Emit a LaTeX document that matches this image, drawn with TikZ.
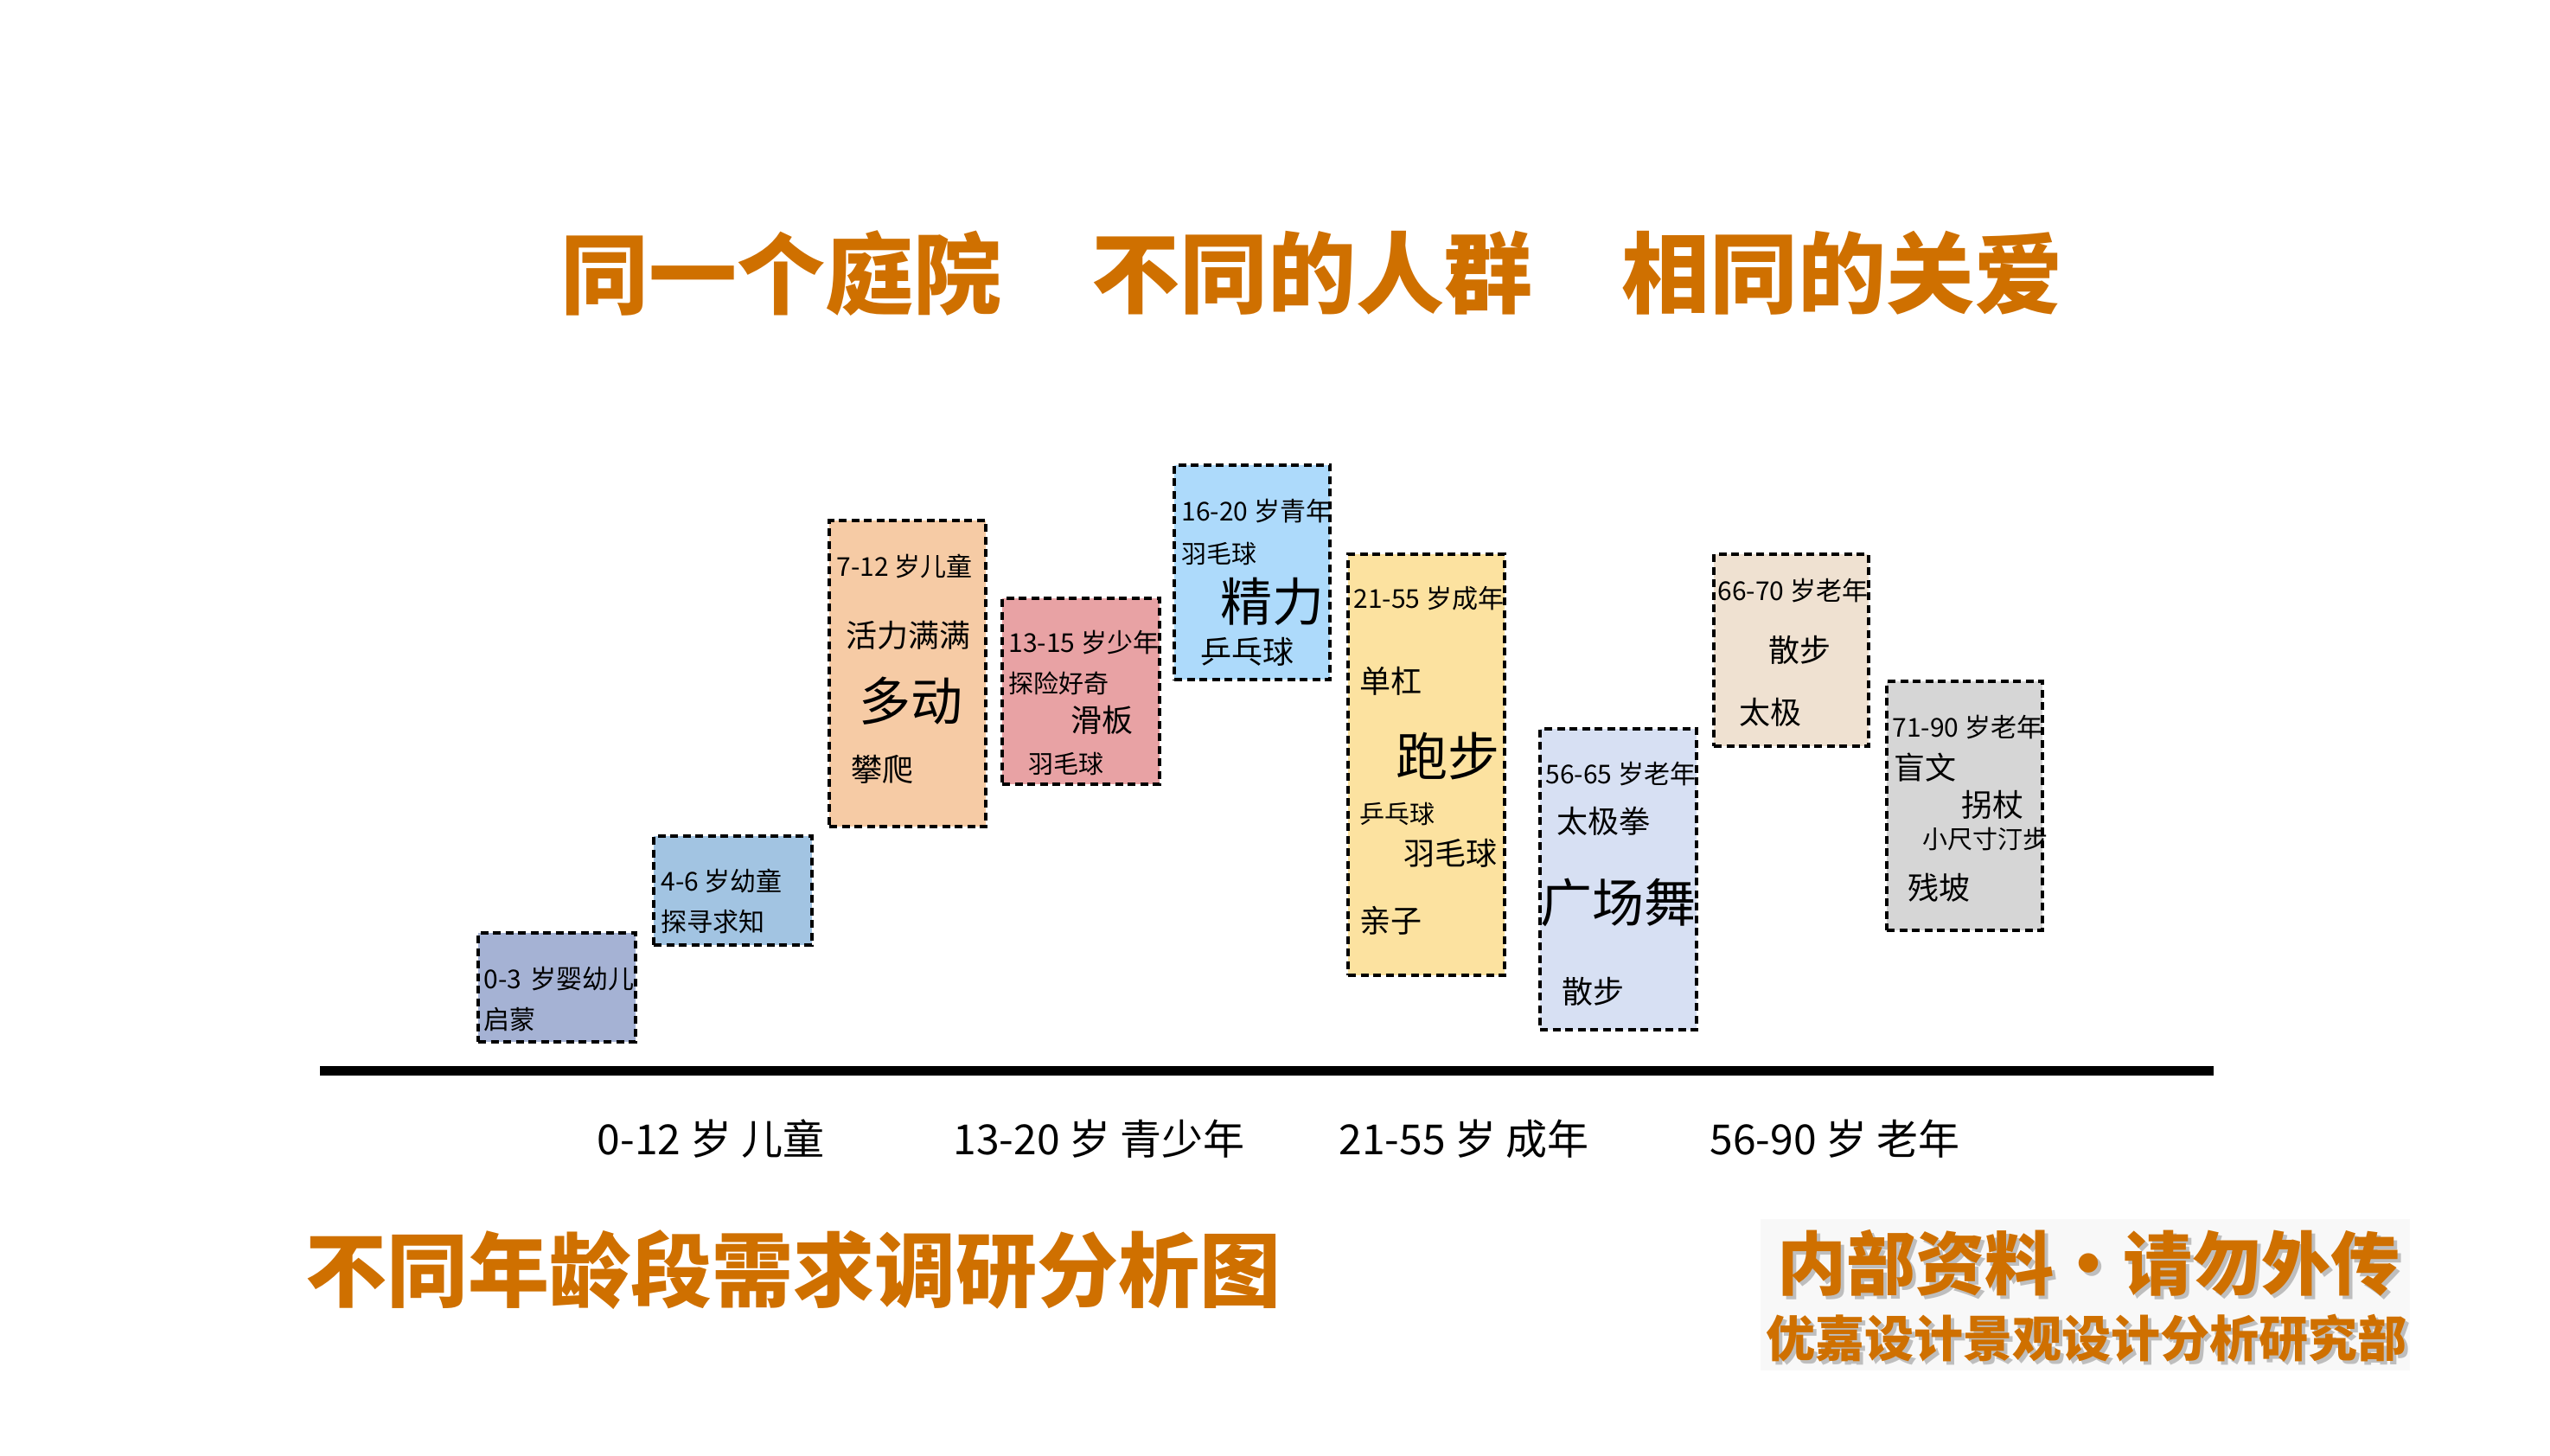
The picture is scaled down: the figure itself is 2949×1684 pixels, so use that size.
\documentclass[tikz,border=0pt]{standalone}
\usepackage{fontspec}
\setmainfont{Noto Sans CJK SC}
\definecolor{ttl}{RGB}{207,112,0}
\definecolor{shd}{RGB}{190,190,190}
\definecolor{stampbg}{RGB}{248,248,248}
\definecolor{ca}{RGB}{165,178,212}
\definecolor{cb}{RGB}{162,196,226}
\definecolor{cc}{RGB}{246,203,165}
\definecolor{cd}{RGB}{232,162,164}
\definecolor{ce}{RGB}{173,218,251}
\definecolor{cf}{RGB}{252,226,160}
\definecolor{cg}{RGB}{215,224,243}
\definecolor{ch}{RGB}{239,225,209}
\definecolor{ci}{RGB}{214,214,214}
\tikzset{
  agebox/.style={draw=black, line width=1.75pt, dash pattern=on 4.5pt off 2.75pt, inner sep=0pt},
  lbl/.style={inner sep=0pt, anchor=west, font=\fontsize{15pt}{18pt}\selectfont},
  sml/.style={inner sep=0pt, anchor=west, font=\fontsize{14.5pt}{17pt}\selectfont},
  mid/.style={inner sep=0pt, anchor=west, font=\fontsize{18pt}{21pt}\selectfont},
  big/.style={inner sep=0pt, anchor=west, font=\fontsize{30pt}{34pt}\selectfont},
  axislbl/.style={inner sep=0pt, font=\fontsize{24pt}{28pt}\selectfont},
  toptitle/.style={inner sep=0pt, text=ttl, font=\fontsize{51pt}{56pt}\selectfont\bfseries},
  stampA/.style={inner sep=0pt, font=\fontsize{40pt}{44pt}\selectfont\bfseries},
  stampB/.style={inner sep=0pt, font=\fontsize{28.5pt}{32pt}\selectfont\bfseries},
}
\begin{document}
\begin{tikzpicture}[x=0.5pt,y=-0.5pt]
\useasboundingbox (0,0) rectangle (2949,1684);
\fill[white] (0,0) rectangle (2949,1684);

% top title
\node[toptitle] (t1) at (903,316) {同一个庭院};
\node[toptitle] (t2) at (1517,316) {不同的人群};
\node[toptitle] (t3) at (2130,316) {相同的关爱};

% boxes
\node[agebox, fill=ca, minimum width=91pt, minimum height=63pt] (b1) at (644,1142) {};
\node[agebox, fill=cb, minimum width=91.5pt, minimum height=63pt] (b2) at (847.5,1030) {};
\node[agebox, fill=cc, minimum width=90.5pt, minimum height=177pt] (b3) at (1049.5,779) {};
\node[agebox, fill=cd, minimum width=91pt, minimum height=107.5pt] (b4) at (1250,799.5) {};
\node[agebox, fill=ce, minimum width=90pt, minimum height=124pt] (b5) at (1448,662) {};
\node[agebox, fill=cf, minimum width=90.5pt, minimum height=243.5pt] (b6) at (1649.5,884.5) {};
\node[agebox, fill=cg, minimum width=90.5pt, minimum height=174pt] (b7) at (1871.5,1017) {};
\node[agebox, fill=ch, minimum width=89.5pt, minimum height=111pt] (b8) at (2071.5,752) {};
\node[agebox, fill=ci, minimum width=90pt, minimum height=144pt] (b9) at (2272,932) {};

% box 1
\node[lbl] (a1) at (559,1132) {0-3\hspace{5pt}岁婴幼儿};
\node[lbl] (a2) at (559,1179) {启蒙};
% box 2
\node[lbl] (b2a) at (764,1019) {4-6 岁幼童};
\node[lbl] (b2b) at (764,1066) {探寻求知};
% box 3
\node[lbl] (c1) at (967,655) {7-12 岁儿童};
\node[mid, anchor=center] (c2) at (1050,735) {活力满满};
\node[big, anchor=center] (c3) at (1053,811) {多动};
\node[mid] (c4) at (984,890) {攀爬};
% box 4
\node[lbl] (d1) at (1166,743) {13-15 岁少年};
\node[sml] (d2) at (1166,790) {探险好奇};
\node[mid] (d3) at (1238,833) {滑板};
\node[sml] (d4) at (1189,884) {羽毛球};
% box 5
\node[lbl] (e1) at (1366,591) {16-20 岁青年};
\node[sml] (e2) at (1366,641) {羽毛球};
\node[big] (e3) at (1411,696) {精力};
\node[mid] (e4) at (1388,754) {乒乓球};
% box 6
\node[lbl] (f1) at (1565,692) {21-55 岁成年};
\node[mid] (f2) at (1572,788) {单杠};
\node[big] (f3) at (1614,875) {跑步};
\node[sml] (f4) at (1572,942) {乒乓球};
\node[mid] (f5) at (1623,987) {羽毛球};
\node[mid] (f6) at (1572,1065) {亲子};
% box 7
\node[lbl] (g1) at (1787,895) {56-65 岁老年};
\node[mid] (g2) at (1800,950) {太极拳};
\node[big] (g3) at (1781,1044) {广场舞};
\node[mid] (g4) at (1806,1147) {散步};
% box 8
\node[lbl] (h1) at (1986,683) {66-70 岁老年};
\node[mid] (h2) at (2045,752) {散步};
\node[mid] (h3) at (2011,824) {太极};
% box 9
\node[lbl] (i1) at (2188,841) {71-90 岁老年};
\node[mid] (i2) at (2190,888) {盲文};
\node[mid] (i3) at (2268,931) {拐杖};
\node[sml] (i4) at (2223,971) {小尺寸汀步};
\node[mid] (i5) at (2206,1027) {残坡};

% axis
\coordinate (axL) at (370,1238);
\coordinate (axR) at (2560,1238);
\draw[line width=5.5pt, black] (axL) -- (axR);
\node[axislbl] (x1) at (822,1317) {0-12 岁 儿童};
\node[axislbl] (x2) at (1271,1317) {13-20 岁 青少年};
\node[axislbl] (x3) at (1693,1317) {21-55 岁 成年};
\node[axislbl] (x4) at (2122,1317) {56-90 岁 老年};

% bottom title
\node[inner sep=0pt, text=ttl, font=\fontsize{47pt}{52pt}\selectfont\bfseries] (bt) at (917,1469) {不同年龄段需求调研分析图};

% stamp
\fill[stampbg] (2036,1410) rectangle (2787,1585);
\node[stampA, text=shd] (s1s) at (2419,1465) {内部资料·请勿外传};
\node[stampA, text=ttl] (s1) at (2415,1461) {内部资料·请勿外传};
\node[stampB, text=shd] (s2s) at (2417,1552) {优嘉设计景观设计分析研究部};
\node[stampB, text=ttl] (s2) at (2413,1548) {优嘉设计景观设计分析研究部};
\end{tikzpicture}
\end{document}
